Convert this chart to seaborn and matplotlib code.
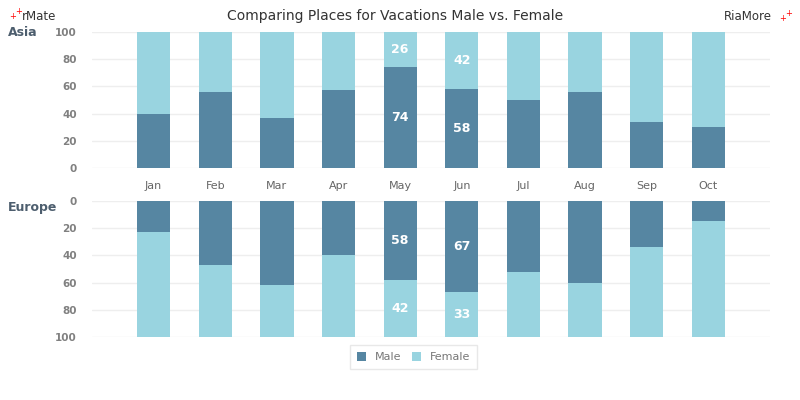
import matplotlib
matplotlib.use("Agg")
import matplotlib.pyplot as plt
import seaborn as sns
import pandas as pd
from matplotlib.patches import Patch

months = ["Jan", "Feb", "Mar", "Apr", "May", "Jun", "Jul", "Aug", "Sep", "Oct"]
asia_male = [40, 56, 37, 57, 74, 58, 50, 56, 34, 30]
europe_male = [23, 47, 62, 40, 58, 67, 52, 60, 34, 15]
labeled_months = ["May", "Jun"]

MALE = "#5686a2"
FEMALE = "#99d4e0"
GRID = "#eeeeee"
TICK = "#808080"

sns.set_theme(style="white")
plt.rcParams["font.family"] = ["DejaVu Sans"]

fig = plt.figure(figsize=(8, 4), dpi=100)
ax_top = fig.add_axes([0.115, 0.58, 0.8475, 0.34])
ax_bot = fig.add_axes([0.115, 0.1575, 0.8475, 0.34])


def draw(ax, male, invert):
    df = pd.DataFrame({"month": months, "male": male,
                       "female": [100 - m for m in male],
                       "total": [100] * len(male)})
    sns.barplot(data=df, x="month", y="total", color=FEMALE, width=0.54,
                ax=ax, saturation=1, edgecolor="none", zorder=2)
    sns.barplot(data=df, x="month", y="male", color=MALE, width=0.54,
                ax=ax, saturation=1, edgecolor="none", zorder=3)
    ax.set_xlim(-1, 10)
    ax.set_ylim(0, 100)
    if invert:
        ax.invert_yaxis()
    ax.set_yticks([0, 20, 40, 60, 80, 100])
    ax.yaxis.grid(True, color=GRID, linewidth=1, zorder=0)
    ax.set_axisbelow(True)
    for s in ax.spines.values():
        s.set_visible(False)
    ax.tick_params(axis="y", length=0, pad=11, labelsize=7.5, labelcolor=TICK)
    for lab in ax.get_yticklabels():
        lab.set_fontweight("semibold")
    ax.set_xlabel("")
    ax.set_ylabel("")
    for i, m in enumerate(months):
        if m in labeled_months:
            mv = df["male"][i]
            fv = df["female"][i]
            ax.text(i, mv / 2, str(mv), ha="center", va="center",
                    color="white", fontsize=9, fontweight="bold", zorder=5)
            ax.text(i, mv + fv / 2, str(fv), ha="center", va="center",
                    color="white", fontsize=9, fontweight="bold", zorder=5)


draw(ax_top, asia_male, False)
draw(ax_bot, europe_male, True)

ax_top.tick_params(axis="x", length=0, pad=9, labelsize=8, labelcolor="#666666")
ax_bot.set_xticklabels([])
ax_bot.tick_params(axis="x", length=0)

fig.text(0.494, 0.96, "Comparing Places for Vacations Male vs. Female",
         ha="center", va="center", fontsize=10, color="#333333")
fig.text(0.010, 0.92, "Asia", ha="left", va="center", fontsize=9,
         fontweight="bold", color="#4d5e6e")
fig.text(0.010, 0.48, "Europe", ha="left", va="center", fontsize=9,
         fontweight="bold", color="#4d5e6e")

fig.text(0.012, 0.958, "+", color="red", fontsize=6, ha="left", va="center")
fig.text(0.019, 0.97, "+", color="red", fontsize=6, ha="left", va="center")
fig.text(0.027, 0.96, "rMate", color="#333333", fontsize=8.5, ha="left", va="center")
fig.text(0.905, 0.96, "RiaMore", color="#333333", fontsize=8.5, ha="left", va="center")
fig.text(0.974, 0.954, "+", color="red", fontsize=6, ha="left", va="center")
fig.text(0.981, 0.966, "+", color="red", fontsize=6, ha="left", va="center")

handles = [Patch(facecolor=MALE, edgecolor="none", label="Male"),
           Patch(facecolor=FEMALE, edgecolor="none", label="Female")]
leg = fig.legend(handles=handles, loc="center", bbox_to_anchor=(0.517, 0.107),
                 ncol=2, frameon=True, fontsize=8, handlelength=0.8,
                 handleheight=0.8, handletextpad=0.8, columnspacing=1.0,
                 fancybox=False, borderpad=0.6)
leg.get_frame().set_edgecolor("#e3e3e3")
leg.get_frame().set_linewidth(1)
for t in leg.get_texts():
    t.set_color("#777777")

fig.savefig("out.png", dpi=100)
